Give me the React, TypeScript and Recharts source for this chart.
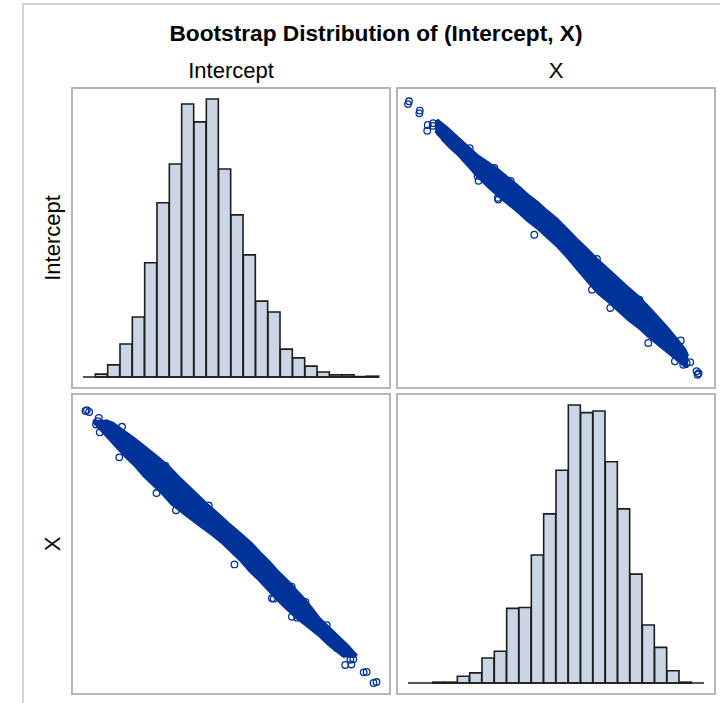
import { Area, Bar, BarChart, ComposedChart, ReferenceLine, Scatter, XAxis, YAxis } from 'recharts';

const FONT = '"Liberation Sans", Arial, Helvetica, sans-serif';
const BLUE = '#003399';
const HIST_FILL = '#cad5e5';
const HIST_LINE = '#1c1c1c';
const PANEL_LINE = '#b4b7ba';

// Intercept histogram (bins of width 0.5)
const interceptBins = [
  '24.0', '24.5', '25.0', '25.5', '26.0', '26.5', '27.0', '27.5', '28.0', '28.5', '29.0', '29.5',
  '30.0', '30.5', '31.0', '31.5', '32.0', '32.5', '33.0', '33.5', '34.0', '34.5', '35.0', '35.5',
];
const interceptCounts = [
  0, 7, 29, 79, 144, 274, 418, 511, 655, 612, 667, 499,
  389, 293, 182, 156, 67, 46, 26, 12, 5, 5, 1, 2,
];

// X histogram (bins of width 0.025)
const xBins = [
  '0.400', '0.425', '0.450', '0.475', '0.500', '0.525', '0.550', '0.575', '0.600', '0.625', '0.650', '0.675',
  '0.700', '0.725', '0.750', '0.775', '0.800', '0.825', '0.850', '0.875', '0.900', '0.925', '0.950', '0.975',
];
const xCounts = [
  0, 0, 2, 2, 16, 24, 59, 75, 176, 178, 302, 399,
  502, 656, 638, 642, 522, 411, 257, 137, 84, 29, 2, 0,
];

// dense core of the bootstrap cloud: Intercept range at each X
const bandX = [
  0.455, 0.461, 0.481, 0.501, 0.521, 0.541, 0.562, 0.582, 0.602, 0.622, 0.642, 0.663, 0.683, 0.703,
  0.723, 0.745, 0.766, 0.786, 0.806, 0.826, 0.846, 0.867, 0.887, 0.907, 0.927, 0.947, 0.962, 0.968,
];
const bandIntLow = [
  34.6, 34.45, 33.97, 33.58, 33.11, 32.63, 32.2, 31.81, 31.47, 31.12, 30.73, 30.39, 30.0, 29.61,
  29.14, 28.58, 28.06, 27.58, 27.24, 26.85, 26.46, 26.12, 25.73, 25.38, 25.04, 24.69, 24.43, 24.43,
];
const bandIntHigh = [
  35.0, 35.09, 34.75, 34.36, 33.97, 33.58, 33.28, 32.98, 32.63, 32.29, 31.9, 31.55, 31.17, 30.82,
  30.39, 29.91, 29.48, 29.05, 28.66, 28.27, 27.88, 27.5, 27.06, 26.59, 26.12, 25.6, 25.21, 24.91,
];

// individual replicates visible at the edges and tails
const pointX = [
  0.402, 0.424, 0.44, 0.451, 0.474, 0.491, 0.525, 0.575, 0.608, 0.541, 0.582, 0.656, 0.776, 0.773,
  0.857, 0.81, 0.887, 0.911, 0.941, 0.965, 0.958, 0.987, 0.985, 0.972, 0.955, 0.953, 0.869, 0.783,
  0.583, 0.543, 0.525, 0.5, 0.475, 0.465, 0.45, 0.439, 0.423, 0.4, 0.989,
];
const pointInt = [
  35.9, 35.5, 34.88, 34.96, 34.53, 34.35, 33.88, 33.02, 32.46, 32.68, 31.73, 30.14, 29.06, 27.77,
  27.34, 26.98, 25.47, 26.12, 24.68, 24.6, 24.53, 24.1, 24.25, 24.64, 24.9, 25.58, 27.34, 29.1,
  31.66, 32.47, 33.62, 33.96, 34.3, 34.57, 34.84, 34.63, 35.38, 35.78, 24.16,
];

const INT_DOMAIN: [number, number] = [24, 36];
const X_DOMAIN: [number, number] = [0.4, 1.0];

const bandData = bandX.map((x, i) => ({ x, range: [bandIntLow[i], bandIntHigh[i]] }));
const pointData = pointX.map((x, i) => ({ x, int: pointInt[i] }));

const CHART_W = 316;
const CHART_H = 298;
const MARGIN = { top: 10, right: 10, bottom: 10, left: 10 };

function Panel({ left, top, children }: { left: number; top: number; children: any }) {
  return (
    <div
      style={{
        position: 'absolute',
        left,
        top,
        width: CHART_W + 4,
        height: CHART_H + 4,
        border: `2px solid ${PANEL_LINE}`,
        boxSizing: 'border-box',
        background: '#fff',
      }}
    >
      {children}
    </div>
  );
}

function Histogram({ bins, counts }: { bins: string[]; counts: number[] }) {
  const data = bins.map((bin, i) => ({ bin, count: counts[i] }));
  const max = Math.max(...counts);
  return (
    <BarChart width={CHART_W} height={CHART_H} data={data} margin={MARGIN} barCategoryGap={0} barGap={0}>
      <XAxis dataKey="bin" hide />
      <YAxis hide domain={[0, max]} />
      <Bar dataKey="count" fill={HIST_FILL} stroke={HIST_LINE} strokeWidth={1.6} isAnimationActive={false} />
      <ReferenceLine y={0} stroke={HIST_LINE} strokeWidth={1.6} />
    </BarChart>
  );
}

const ring = (p: any) => (
  <circle cx={p.cx} cy={p.cy} r={3.3} fill="none" stroke={BLUE} strokeWidth={1.3} />
);

function CloudPlot({ transpose }: { transpose: boolean }) {
  return (
    <ComposedChart
      width={CHART_W}
      height={CHART_H}
      data={bandData}
      layout={transpose ? 'vertical' : 'horizontal'}
      margin={MARGIN}
    >
      <XAxis
        type="number"
        dataKey={transpose ? 'int' : 'x'}
        domain={transpose ? INT_DOMAIN : X_DOMAIN}
        hide
      />
      <YAxis
        type="number"
        dataKey={transpose ? 'x' : 'int'}
        domain={transpose ? X_DOMAIN : INT_DOMAIN}
        reversed={transpose}
        hide
      />
      <Area
        dataKey="range"
        type="linear"
        fill={BLUE}
        fillOpacity={1}
        stroke={BLUE}
        strokeWidth={2}
        dot={false}
        activeDot={false}
        isAnimationActive={false}
      />
      <Scatter data={pointData} shape={ring} isAnimationActive={false} />
    </ComposedChart>
  );
}

export default function App() {
  return (
    <div
      style={{
        position: 'absolute',
        left: 0,
        top: 0,
        width: 720,
        height: 703,
        overflow: 'hidden',
        background: '#fff',
        fontFamily: FONT,
      }}
    >
      <div
        style={{
          position: 'absolute',
          left: 22,
          top: 3,
          width: 720,
          height: 720,
          borderLeft: '2px solid #d4d4d4',
          borderTop: '2px solid #d4d4d4',
        }}
      />
      <svg width={720} height={703} style={{ position: 'absolute', left: 0, top: 0 }}>
        <text x={376} y={41} textAnchor="middle" fontSize={22} fontWeight="bold" fill="#000" fontFamily={FONT}
          textLength={413} lengthAdjust="spacingAndGlyphs">
          Bootstrap Distribution of (Intercept, X)
        </text>
        <text x={231} y={78} textAnchor="middle" fontSize={22} fill="#000" fontFamily={FONT}>
          Intercept
        </text>
        <text x={556} y={78} textAnchor="middle" fontSize={22} fill="#000" fontFamily={FONT}>
          X
        </text>
        <text x={60} y={238} textAnchor="middle" fontSize={22} fill="#000" fontFamily={FONT} transform="rotate(-90 60 238)">
          Intercept
        </text>
        <text x={60} y={544} textAnchor="middle" fontSize={22} fill="#000" fontFamily={FONT} transform="rotate(-90 60 544)">
          X
        </text>
      </svg>
      <Panel left={71} top={87}>
        <Histogram bins={interceptBins} counts={interceptCounts} />
      </Panel>
      <Panel left={396} top={87}>
        <CloudPlot transpose={false} />
      </Panel>
      <Panel left={71} top={393}>
        <CloudPlot transpose={true} />
      </Panel>
      <Panel left={396} top={393}>
        <Histogram bins={xBins} counts={xCounts} />
      </Panel>
    </div>
  );
}
